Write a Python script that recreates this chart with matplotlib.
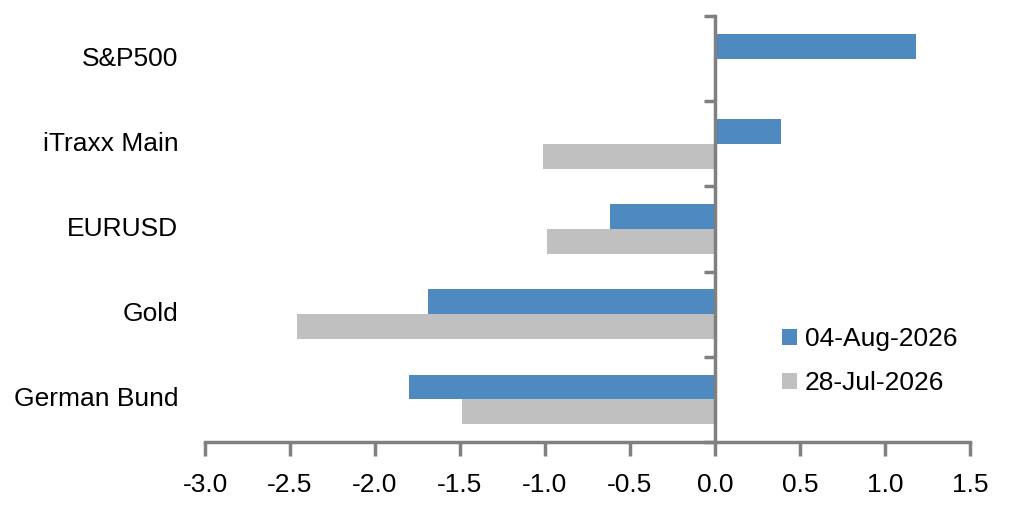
import matplotlib
matplotlib.use("Agg")
import matplotlib.pyplot as plt
import matplotlib.transforms as mtransforms
import numpy as np

plt.rcParams['font.family'] = ['Liberation Sans', 'DejaVu Sans']

# categories from top to bottom
categories = ["S&P500", "iTraxx Main", "EURUSD", "Gold", "German Bund"]
aug04 = [1.18, 0.39, -0.62, -1.69, -1.80]
jul28 = [0.0, -1.01, -0.99, -2.46, -1.49]
labels = ["04-Aug-2026", "28-Jul-2026"]
xticks = [-3.0, -2.5, -2.0, -1.5, -1.0, -0.5, 0.0, 0.5, 1.0, 1.5]

blue = "#4E89BF"
gray = "#C0C0C0"
axis_col = "#808080"
fs = 19

fig = plt.figure(figsize=(10.2, 5.11), dpi=100)
ax = fig.add_axes([205 / 1020, 1 - 442 / 511, 765 / 1020, 426 / 511])

n = len(categories)
y = np.arange(n)[::-1]  # top category highest
h = 0.29
ax.barh(y + h / 2, aug04, height=h, color=blue, label=labels[0])
ax.barh(y - h / 2, jul28, height=h, color=gray, label=labels[1])

ax.set_xlim(-3.0, 1.5)
ax.set_ylim(-0.5, n - 0.5)

ax.set_xticks(xticks)
ax.set_xticklabels([f"{v:.1f}" for v in xticks], fontsize=fs)
ax.tick_params(axis="x", direction="out", length=10, width=2.5, color=axis_col, pad=12)

# y axis sits at zero, ticks at category boundaries
ax.spines["left"].set_position(("data", 0))
ax.set_yticks(np.arange(n + 1) - 0.5)
ax.set_yticklabels([])
ax.tick_params(axis="y", direction="out", length=8, width=2.5, color=axis_col)

for side in ["top", "right"]:
    ax.spines[side].set_visible(False)
for side in ["left", "bottom"]:
    ax.spines[side].set_color(axis_col)
    ax.spines[side].set_linewidth(2.5)

trans = mtransforms.blended_transform_factory(ax.transAxes, ax.transData)
for yy, name in zip(y, categories):
    ax.text(-0.035, yy, name, transform=trans, ha="right", va="center", fontsize=fs)

leg = ax.legend(loc="center left", bbox_to_anchor=(0.754, 0.19), frameon=False,
                fontsize=fs, handlelength=0.57, handleheight=0.57, handletextpad=0.3,
                labelspacing=0.75, borderpad=0, borderaxespad=0)

fig.savefig("out.png", dpi=100)
